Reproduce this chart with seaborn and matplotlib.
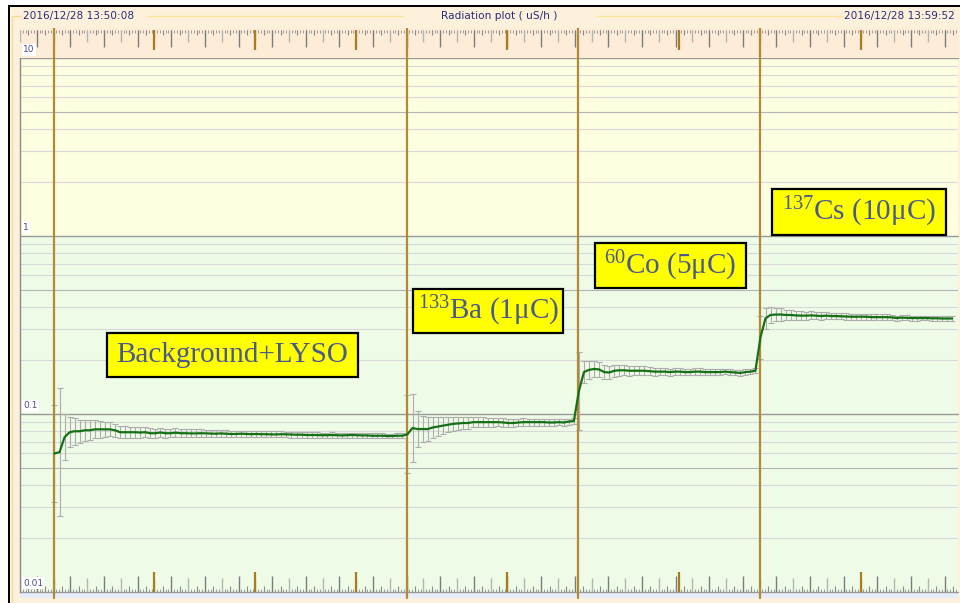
import numpy as np
import pandas as pd
import matplotlib
matplotlib.use("Agg")
import matplotlib.pyplot as plt
from matplotlib.patches import Rectangle
import seaborn as sns

# ---------------------------------------------------------------- data
# dose rate readings (uS/h), one every SAMPLE_STEP time units
SAMPLE_START = 20.5
SAMPLE_STEP = 3.0

dose_background = [
    0.060, 0.061, 0.074, 0.079, 0.080, 0.080, 0.081, 0.081, 0.082, 0.082,
    0.082, 0.082, 0.081, 0.079, 0.079, 0.079, 0.079, 0.0787, 0.079, 0.078,
    0.078, 0.0787, 0.078, 0.078, 0.0785, 0.078, 0.078, 0.0778, 0.0778, 0.078,
    0.0778, 0.0775, 0.0775, 0.0778, 0.0775, 0.0772, 0.0772, 0.0775, 0.0772, 0.077,
    0.0772, 0.077, 0.077, 0.0768, 0.0768, 0.077, 0.0768, 0.0765, 0.0765, 0.0765,
    0.0762, 0.0762, 0.0762, 0.076, 0.076, 0.0762, 0.076, 0.0758, 0.076, 0.0762,
    0.076, 0.0758, 0.0758, 0.0755, 0.0755, 0.0755, 0.0752, 0.0752, 0.0755, 0.0755,
]
dose_ba133 = [
    0.077, 0.0834, 0.0823, 0.0823, 0.0823, 0.084, 0.085, 0.086, 0.087, 0.088,
    0.0885, 0.089, 0.089, 0.090, 0.090, 0.090, 0.090, 0.090, 0.090, 0.0896,
    0.089, 0.089, 0.0896, 0.090, 0.090, 0.090, 0.090, 0.090, 0.0896, 0.0896,
    0.090, 0.0896, 0.0907, 0.0913,
]
dose_co60 = [
    0.135, 0.172, 0.177, 0.179, 0.178, 0.172, 0.171, 0.175, 0.176, 0.176,
    0.175, 0.175, 0.175, 0.175, 0.174, 0.173, 0.173, 0.173, 0.172, 0.173,
    0.173, 0.172, 0.172, 0.173, 0.173, 0.172, 0.172, 0.172, 0.172, 0.173,
    0.172, 0.171, 0.170, 0.172, 0.173, 0.175,
]
dose_cs137 = [
    0.270, 0.345, 0.360, 0.362, 0.362, 0.360, 0.360, 0.358, 0.357, 0.357,
    0.358, 0.357, 0.355, 0.357, 0.355, 0.355, 0.354, 0.353, 0.352, 0.352,
    0.352, 0.352, 0.350, 0.350, 0.350, 0.350, 0.349, 0.346, 0.348, 0.347,
    0.346, 0.346, 0.346, 0.346, 0.345, 0.345, 0.344, 0.344, 0.344,
]

# uncertainty of each reading, half-width in decades
err_background = [
    0.27, 0.36, 0.13, 0.085, 0.075, 0.065, 0.06, 0.055, 0.05, 0.047,
    0.044, 0.04, 0.038, 0.035, 0.033, 0.032, 0.03, 0.029, 0.028, 0.027,
    0.026, 0.025, 0.025, 0.024, 0.024, 0.023, 0.023, 0.022, 0.022, 0.021,
    0.021, 0.02, 0.02, 0.02, 0.019, 0.019, 0.019, 0.018, 0.018, 0.018,
    0.018, 0.017, 0.017, 0.017, 0.017, 0.016, 0.016, 0.016, 0.016, 0.016,
    0.015, 0.015, 0.015, 0.015, 0.015, 0.015, 0.014, 0.014, 0.014, 0.014,
    0.014, 0.014, 0.014, 0.013, 0.013, 0.013, 0.013, 0.013, 0.013, 0.013,
]
err_ba133 = [
    0.22, 0.19, 0.1, 0.075, 0.065, 0.058, 0.052, 0.047, 0.043, 0.04,
    0.037, 0.034, 0.032, 0.03, 0.028, 0.027, 0.026, 0.025, 0.024, 0.023,
    0.022, 0.022, 0.021, 0.021, 0.02, 0.02, 0.019, 0.019, 0.018, 0.018,
    0.018, 0.017, 0.017, 0.017,
]
err_co60 = [
    0.22, 0.06, 0.05, 0.046, 0.042, 0.04, 0.037, 0.034, 0.031, 0.029,
    0.027, 0.026, 0.025, 0.024, 0.023, 0.022, 0.021, 0.021, 0.02, 0.02,
    0.019, 0.019, 0.018, 0.018, 0.018, 0.017, 0.017, 0.017, 0.016, 0.016,
    0.016, 0.016, 0.015, 0.015, 0.015, 0.015,
]
err_cs137 = [
    0.12, 0.06, 0.045, 0.038, 0.034, 0.03, 0.028, 0.026, 0.024, 0.023,
    0.022, 0.021, 0.02, 0.02, 0.019, 0.019, 0.018, 0.018, 0.017, 0.017,
    0.016, 0.016, 0.016, 0.015, 0.015, 0.015, 0.015, 0.014, 0.014, 0.014,
    0.014, 0.014, 0.013, 0.013, 0.013, 0.013, 0.013, 0.013, 0.013,
]

source_changes = [20, 230, 332, 440]          # source swapped in
time_marks = [80, 140, 200, 290, 392, 500]     # marker ticks on the rulers
source_labels = [
    "Background+LYSO",
    r"$^{133}$Ba (1μC)",
    r"$^{60}$Co (5μC)",
    r"$^{137}$Cs (10μC)",
]
start_stamp = "2016/12/28 13:50:08"
end_stamp = "2016/12/28 13:59:52"
plot_title = "Radiation plot ( uS/h )"
decades = [0.01, 0.1, 1, 10]
decade_labels = ["0.01", "0.1", "1", "10"]

# ---------------------------------------------------------------- style
sns.set_style("white")
plt.rcParams["font.family"] = ["DejaVu Sans"]
plt.rcParams["mathtext.fontset"] = "custom"
plt.rcParams["mathtext.rm"] = "Liberation Serif"
plt.rcParams["mathtext.it"] = "Liberation Serif:italic"
plt.rcParams["mathtext.bf"] = "Liberation Serif:bold"

W, H = 960, 603
X_MAX = 558
fig = plt.figure(figsize=(W / 100, H / 100), dpi=100)


def frame_box(x0, y0, x1, y1):
    """Axes rectangle from pixel edges (top-left origin)."""
    return [x0 / W, (H - y1) / H, (x1 - x0) / W, (y1 - y0) / H]


# window chrome drawn in pixel space behind everything
bg = fig.add_axes([0, 0, 1, 1], zorder=-5)
bg.set_xlim(0, W)
bg.set_ylim(H, 0)
bg.axis("off")


def px_rect(x0, y0, x1, y1, color):
    bg.add_patch(Rectangle((x0, y0), x1 - x0, y1 - y0, facecolor=color, lw=0))


px_rect(10, 7, W, H, "#fdf1dc")
px_rect(20, 592, 958, 598, "#e7eef9")
px_rect(8, 5, W, 7, "black")
px_rect(8, 5, 10, H, "black")
bg.plot([12, 12], [16, H], color="#f6dc93", lw=1)
bg.plot([12, 21], [16, 16], color="#f6dc93", lw=1)
bg.plot([147, 403], [16, 16], color="#fbe59d", lw=1)
bg.plot([597, 843], [16, 16], color="#fbe59d", lw=1)

hdr = dict(fontsize=7.6, color="#2b2b78", va="center")
bg.text(23, 16, start_stamp, ha="left", **hdr)
bg.text(499, 16, plot_title, ha="center", **hdr)
bg.text(955, 16, end_stamp, ha="right", **hdr)

# ---------------------------------------------------------------- main plot
ax = fig.add_axes(frame_box(20, 58, 958, 592))
ruler = fig.add_axes(frame_box(20, 28, 958, 58), sharex=ax)

ax.set_yscale("log")
ax.set_ylim(0.01, 10)
ax.set_xlim(0, X_MAX)
ax.set_facecolor("#eefbe7")
ax.axhspan(1, 10, color="#fefee0", lw=0, zorder=0)

for d in decades[:-1]:
    for m in range(2, 10):
        ax.axhline(d * m, color="#b4b4b4" if m == 5 else "#d8d8d8", lw=0.8, zorder=1)
for d in decades:
    ax.axhline(d, color="#9a9a9a", lw=1.0, zorder=1, clip_on=False)

dose = np.array(dose_background + dose_ba133 + dose_co60 + dose_cs137)
err = np.array(err_background + err_ba133 + err_co60 + err_cs137)
t = SAMPLE_START + SAMPLE_STEP * np.arange(len(dose))
df = pd.DataFrame({"t": t, "dose": dose})

# bottom ruler ticks inside the plot
xt = ax.get_xaxis_transform()
tiny = np.arange(0, X_MAX, 10 / 6)
small = np.arange(5, X_MAX, 10)
light = np.arange(0, X_MAX, 20)
dark = np.arange(10, X_MAX, 20)
ax.vlines(tiny, 0, 0.0056, transform=xt, color="#9a9a9a", lw=0.7, zorder=2)
ax.vlines(small, 0, 0.011, transform=xt, color="#8a8a8a", lw=0.8, zorder=2)
ax.vlines(light, 0, 0.026, transform=xt, color="#b4b4b4", lw=1.0, zorder=2)
ax.vlines(dark, 0, 0.030, transform=xt, color="#7c7c7c", lw=1.0, zorder=2)
ax.vlines(time_marks, 0, 0.0375, transform=xt, color="#a87d1e", lw=1.6, zorder=2)

# uncertainty bars and dose-rate trace
lo = dose - dose / 10 ** err
hi = dose * 10 ** err - dose
ax.errorbar(t, dose, yerr=[lo, hi], fmt="none", ecolor="#adadad",
            elinewidth=0.8, capsize=2.4, capthick=0.8, zorder=3)
for c in source_changes:
    ax.axvline(c, ymin=-6 / 534, ymax=1, color="#b38a33", lw=1.6,
               zorder=3.5, clip_on=False)
sns.lineplot(data=df, x="t", y="dose", ax=ax, color="#157015", linewidth=1.6,
             estimator=None, sort=False, zorder=4)

ax.set_xlabel("")
ax.set_ylabel("")
ax.tick_params(left=False, bottom=False, labelleft=False, labelbottom=False,
               which="both")
for name, sp in ax.spines.items():
    sp.set_visible(name == "left")
ax.spines["left"].set_color("#8a8a8a")
ax.spines["left"].set_linewidth(1.0)

# source annotation boxes (axes-fraction boxes: x0, y0, w, h)
label_boxes = [
    (0.0928, 0.4026, 0.2676, 0.0824),
    (0.4190, 0.4850, 0.1599, 0.0824),
    (0.6130, 0.5693, 0.1610, 0.0843),
    (0.8017, 0.6685, 0.1855, 0.0861),
]
for text, (x0, y0, w, h) in zip(source_labels, label_boxes):
    ax.add_patch(Rectangle((x0, y0), w, h, transform=ax.transAxes,
                           facecolor="#ffff00", edgecolor="black", lw=1.6,
                           zorder=6))
    ax.text(x0 + w / 2, y0 + h / 2, text, transform=ax.transAxes,
            ha="center", va="center", fontsize=21, family="Liberation Serif",
            color="#4b5a8c", zorder=7)

# ---------------------------------------------------------------- top ruler
ruler.set_ylim(0, 1)
ruler.set_facecolor("#fcecd8")
ruler.tick_params(left=False, bottom=False, labelleft=False, labelbottom=False)
for sp in ruler.spines.values():
    sp.set_visible(False)
top = 1 - 2 / 30
ruler.vlines(tiny, 0.833, top, color="#9a9a9a", lw=0.7)
ruler.vlines(small, 0.767, top, color="#8a8a8a", lw=0.8)
ruler.vlines(light, 0.533, top, color="#b4b4b4", lw=1.0)
ruler.vlines(dark, 0.367, top, color="#7c7c7c", lw=1.0)
ruler.vlines(time_marks, 0.267, top, color="#a87d1e", lw=1.6)
for c in source_changes:
    ruler.axvline(c, color="#b38a33", lw=1.6)

# decade labels on white tags
grid_px = {0.01: 591, 0.1: 414, 1: 236, 10: 58}
for d, lab in zip(decades, decade_labels):
    fig.text(23 / W, 1 - (grid_px[d] - 3.5) / H, lab, ha="left", va="bottom",
             fontsize=6.5, color="#4d4d8a", zorder=10,
             bbox=dict(facecolor="white", edgecolor="none", pad=1.0))

fig.savefig("out.png", dpi=100)
